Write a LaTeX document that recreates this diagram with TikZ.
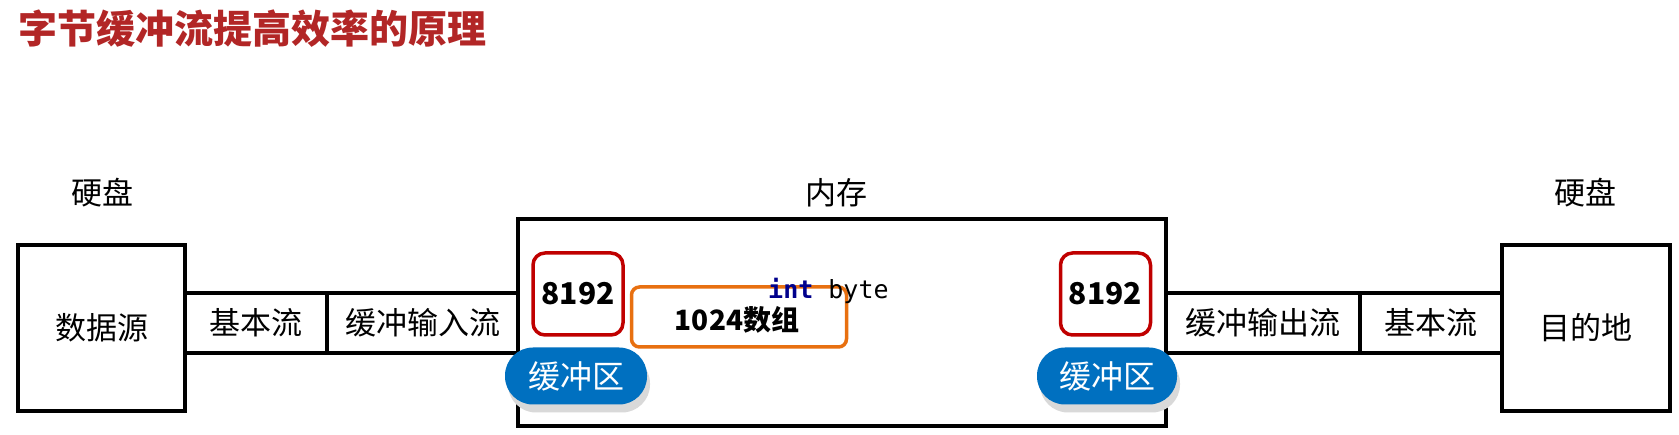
\documentclass[tikz,border=0pt]{standalone}
\usepackage{fontspec}
\setmainfont{Noto Sans CJK SC}
\setmonofont{DejaVu Sans Mono}
\usetikzlibrary{shadows}
\definecolor{titlered}{RGB}{178,38,38}
\definecolor{bufred}{RGB}{192,0,0}
\definecolor{arrorange}{RGB}{232,112,16}
\definecolor{pillblue}{RGB}{0,112,192}
\definecolor{kwblue}{RGB}{0,0,140}
\tikzset{
  blk/.style={draw=black, line width=4.5pt, fill=white, rectangle, inner sep=0pt, font=\fontsize{31}{37}\selectfont},
  lbl/.style={inner sep=0pt, font=\fontsize{31}{37}\selectfont},
  bufbox/.style={draw=bufred, line width=3.5pt, fill=white, rounded corners=12pt, minimum width=90pt, minimum height=82pt, inner sep=0pt, font=\bfseries\fontsize{30}{36}\selectfont},
  pill/.style={fill=pillblue, text=white, rounded corners=28pt, minimum height=57pt, inner sep=0pt, font=\fontsize{32}{38}\selectfont,
    drop shadow={shadow xshift=3pt, shadow yshift=-8pt, fill=black!15, opacity=1}},
  arrbox/.style={draw=arrorange, line width=3.5pt, rounded corners=8pt, minimum width=215pt, minimum height=60pt, inner sep=0pt}
}
\begin{document}
\begin{tikzpicture}[x=1pt,y=-1pt]
\useasboundingbox (0,0) rectangle (1679,435);
\node[anchor=west, inner sep=0pt, text=titlered, font=\bfseries\fontsize{39}{46}\selectfont] (title) at (18,29) {字节缓冲流提高效率的原理};
\node[lbl] (hd1) at (102,193) {硬盘};
\node[lbl] (memlbl) at (836,193) {内存};
\node[lbl] (hd2) at (1585,193) {硬盘};
% boxes
\node[blk, minimum width=167pt, minimum height=166pt] (src) at (101.5,328) {数据源};
\node[blk, minimum width=142pt, minimum height=60pt] (basicin) at (256,323) {基本流};
\node[blk, minimum width=191pt, minimum height=60pt] (bufin) at (422.5,323) {缓冲输入流};
\node[blk, minimum width=648pt, minimum height=207pt] (mem) at (842,322.5) {};
\node[blk, minimum width=194pt, minimum height=60pt] (bufout) at (1263,323) {缓冲输出流};
\node[blk, minimum width=142pt, minimum height=60pt] (basicout) at (1431,323) {基本流};
\node[blk, minimum width=168pt, minimum height=166pt] (dst) at (1586,328) {目的地};
% inside memory
\node[arrbox] (arr) at (739,317) {};
\node[inner sep=0pt, anchor=west, font=\ttfamily\fontsize{25}{30}\selectfont] (intbyte) at (768,291) {\textcolor{kwblue}{\bfseries int} byte};
\node[inner sep=0pt, font=\bfseries\fontsize{28}{34}\selectfont] (arrtext) at (737,320) {1024数组};
\node[bufbox] (buf1) at (578,294) {8192};
\node[bufbox] (buf2) at (1105.5,294) {8192};
\node[pill, minimum width=142pt] (pill1) at (576,376) {缓冲区};
\node[pill, minimum width=140pt] (pill2) at (1107,376) {缓冲区};
\end{tikzpicture}
\end{document}
